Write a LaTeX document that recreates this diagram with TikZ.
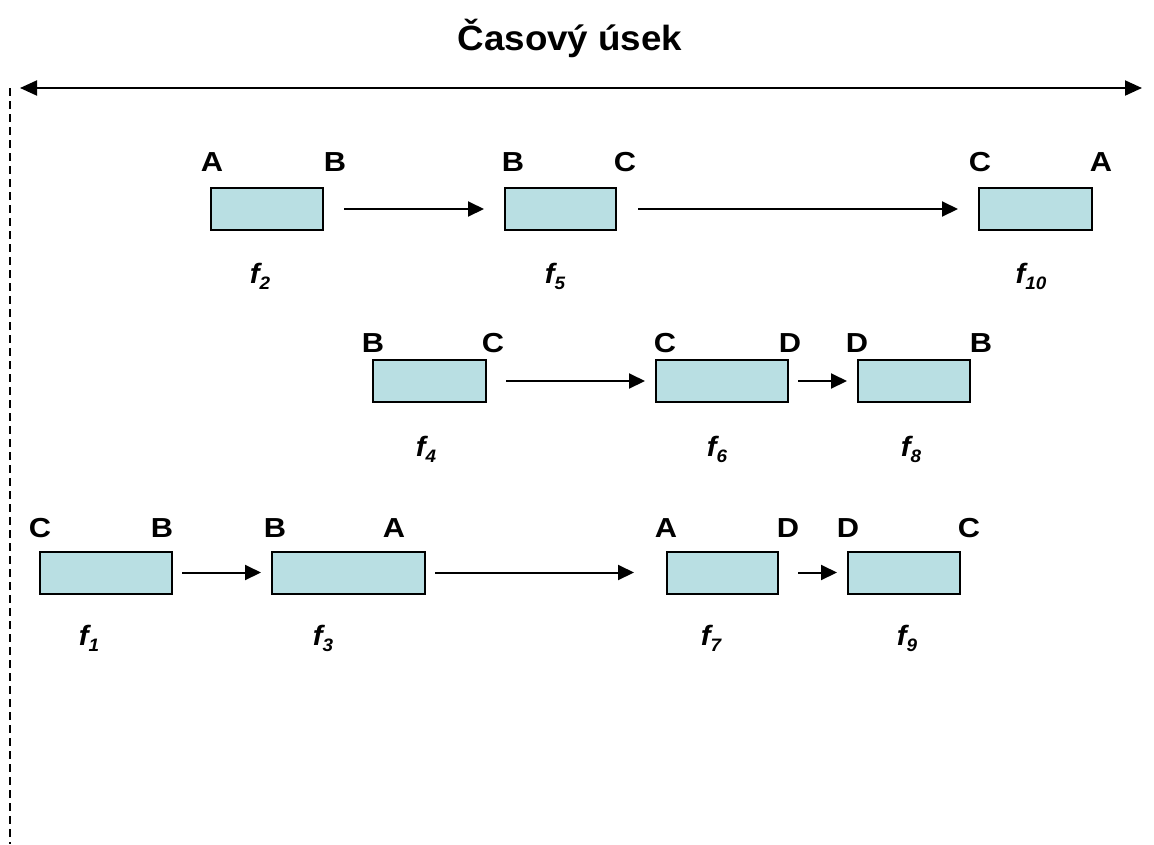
\documentclass[tikz,border=0pt]{standalone}
\usepackage{fontspec}
\setmainfont{Liberation Sans}
\usetikzlibrary{arrows.meta}
\definecolor{boxfill}{RGB}{185,223,227}
\newcommand{\fl}[1]{f\raisebox{-0.22em}{\fontsize{18}{18}\selectfont #1}}
\begin{document}
\begin{tikzpicture}[x=1pt,y=-1pt,
  box/.style={draw=black, line width=2pt, fill=boxfill, minimum height=42pt, inner sep=0pt},
  lbl/.style={font=\bfseries\fontsize{27.5}{27.5}\selectfont, xscale=1.12, anchor=base, inner sep=0pt},
  flbl/.style={font=\bfseries\itshape\fontsize{28}{28}\selectfont, xscale=1.05, anchor=base, inner sep=0pt},
  conn/.style={line width=2pt, -{Triangle[length=16pt,width=15pt]}},
  span/.style={line width=2pt, {Triangle[length=17pt,width=15pt]}-{Triangle[length=17pt,width=15pt]}}
]
\useasboundingbox (0,0) rectangle (1154,844);

% title and time span
\node[font=\bfseries\fontsize{35}{35}\selectfont, xscale=1.05, anchor=base, inner sep=0pt] (title) at (570,50) {Časový úsek};
\coordinate (spanL) at (20,88);
\coordinate (spanR) at (1142,88);
\draw[span] (spanL) -- (spanR);
\coordinate (axTop) at (10,88);
\coordinate (axBot) at (10,844);
\draw[line width=2.2pt, dash pattern=on 8pt off 5pt] (axTop) -- (axBot);

% row 1
\node[box, minimum width=112pt] (f2) at (267,209) {};
\node[box, minimum width=111pt] (f5) at (560.5,209) {};
\node[box, minimum width=113pt] (f10) at (1035.5,209) {};
% row 2
\node[box, minimum width=113pt] (f4) at (429.5,381) {};
\node[box, minimum width=132pt] (f6) at (722,381) {};
\node[box, minimum width=112pt] (f8) at (914,381) {};
% row 3
\node[box, minimum width=132pt] (f1) at (106,572.5) {};
\node[box, minimum width=153pt] (f3) at (348.5,572.5) {};
\node[box, minimum width=111pt] (f7) at (722.5,572.5) {};
\node[box, minimum width=112pt] (f9) at (904,572.5) {};

% connectors
\draw[conn, shorten <=20pt, shorten >=20pt] (f2.east) -- (f5.west);
\draw[conn, shorten <=21pt, shorten >=20pt] (f5.east) -- (f10.west);
\draw[conn, shorten <=19pt, shorten >=10pt] (f4.east) -- (f6.west);
\draw[conn, shorten <=9pt, shorten >=10pt] (f6.east) -- (f8.west);
\draw[conn, shorten <=9pt, shorten >=10pt] (f1.east) -- (f3.west);
\draw[conn, shorten <=9pt, shorten >=32pt] (f3.east) -- (f7.west);
\draw[conn, shorten <=19pt, shorten >=10pt] (f7.east) -- (f9.west);

% endpoint letters, row 1
\node[lbl] (l2a) at (212,171) {A};
\node[lbl] (l2b) at (335,171) {B};
\node[lbl] (l5a) at (513,171) {B};
\node[lbl] (l5b) at (625,171) {C};
\node[lbl] (l10a) at (980,171) {C};
\node[lbl] (l10b) at (1101,171) {A};
% row 2
\node[lbl] (l4a) at (373,352) {B};
\node[lbl] (l4b) at (493,352) {C};
\node[lbl] (l6a) at (665,352) {C};
\node[lbl] (l6b) at (790,352) {D};
\node[lbl] (l8a) at (857,352) {D};
\node[lbl] (l8b) at (981,352) {B};
% row 3
\node[lbl] (l1a) at (40,537) {C};
\node[lbl] (l1b) at (162,537) {B};
\node[lbl] (l3a) at (275,537) {B};
\node[lbl] (l3b) at (394,537) {A};
\node[lbl] (l7a) at (666,537) {A};
\node[lbl] (l7b) at (788,537) {D};
\node[lbl] (l9a) at (848,537) {D};
\node[lbl] (l9b) at (969,537) {C};

% function names
\node[flbl] (n2) at (260,283) {\fl{2}};
\node[flbl] (n5) at (555,283) {\fl{5}};
\node[flbl] (n10) at (1031,283) {\fl{10}};
\node[flbl] (n4) at (426,456) {\fl{4}};
\node[flbl] (n6) at (717,456) {\fl{6}};
\node[flbl] (n8) at (911,456) {\fl{8}};
\node[flbl] (n1) at (89,645) {\fl{1}};
\node[flbl] (n3) at (323,645) {\fl{3}};
\node[flbl] (n7) at (711,645) {\fl{7}};
\node[flbl] (n9) at (907,645) {\fl{9}};
\end{tikzpicture}
\end{document}
